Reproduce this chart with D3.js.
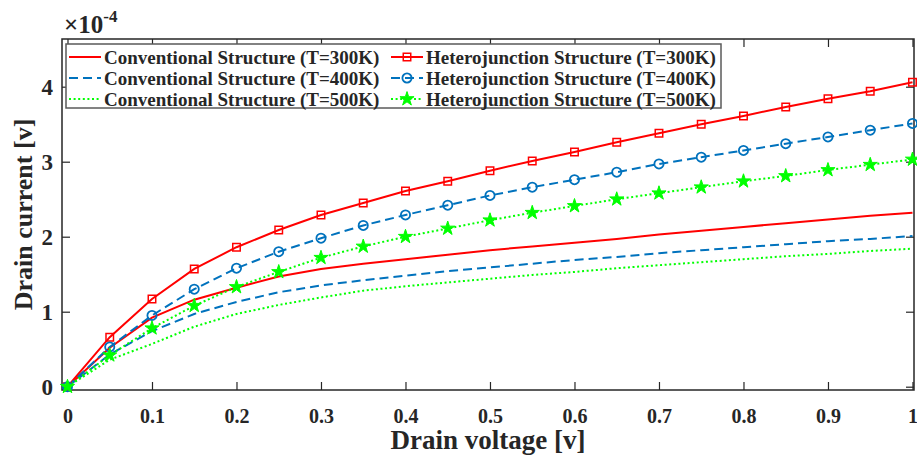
<!DOCTYPE html>
<html>
<head>
<meta charset="utf-8">
<script src="https://cdn.jsdelivr.net/npm/d3@7"></script>
<style>
  html, body { margin: 0; padding: 0; background: #fff; }
  svg { display: block; }
  text { font-family: "Liberation Serif", "Times New Roman", serif; font-weight: bold; fill: #262626; }
</style>
</head>
<body>
<svg id="chart" width="917" height="459"></svg>
<script>
// ---------------- data (current in units of 1e-4 A) ----------------
const voltage = [0, 0.05, 0.1, 0.15, 0.2, 0.25, 0.3, 0.35, 0.4, 0.45, 0.5,
                 0.55, 0.6, 0.65, 0.7, 0.75, 0.8, 0.85, 0.9, 0.95, 1.0];
const conv300 = [0, 0.52, 0.92, 1.16, 1.32, 1.47, 1.57, 1.64, 1.70, 1.76, 1.82,
                 1.87, 1.92, 1.97, 2.03, 2.08, 2.13, 2.18, 2.23, 2.28, 2.32];
const conv400 = [0, 0.43, 0.74, 0.97, 1.13, 1.26, 1.35, 1.42, 1.48, 1.54, 1.59,
                 1.64, 1.69, 1.73, 1.78, 1.82, 1.86, 1.90, 1.94, 1.97, 2.01];
const conv500 = [0, 0.36, 0.57, 0.80, 0.97, 1.09, 1.19, 1.28, 1.34, 1.39, 1.44,
                 1.49, 1.53, 1.58, 1.62, 1.66, 1.70, 1.74, 1.77, 1.81, 1.84];
const het300  = [0, 0.66, 1.17, 1.57, 1.86, 2.09, 2.29, 2.45, 2.61, 2.74, 2.88,
                 3.01, 3.13, 3.26, 3.38, 3.50, 3.61, 3.73, 3.84, 3.94, 4.06];
const het400  = [0, 0.53, 0.95, 1.30, 1.58, 1.80, 1.98, 2.15, 2.29, 2.42, 2.55,
                 2.66, 2.76, 2.86, 2.97, 3.06, 3.15, 3.24, 3.33, 3.42, 3.51];
const het500  = [0, 0.42, 0.78, 1.08, 1.33, 1.53, 1.72, 1.87, 2.00, 2.11, 2.22,
                 2.32, 2.41, 2.50, 2.58, 2.66, 2.74, 2.81, 2.89, 2.96, 3.03];

const xTicks = [0, 0.1, 0.2, 0.3, 0.4, 0.5, 0.6, 0.7, 0.8, 0.9, 1];
const xTickLabels = ["0", "0.1", "0.2", "0.3", "0.4", "0.5", "0.6", "0.7", "0.8", "0.9", "1"];
const yTicks = [0, 1, 2, 3, 4];
const yTickLabels = ["0", "1", "2", "3", "4"];
const exponentLabel = "-4";
const xTitle = "Drain voltage [v]";
const yTitle = "Drain current [v]";

const seriesNames = [
  "Conventional Structure (T=300K)",
  "Conventional Structure (T=400K)",
  "Conventional Structure (T=500K)",
  "Heterojunction Structure (T=300K)",
  "Heterojunction Structure (T=400K)",
  "Heterojunction Structure (T=500K)"
];

// ---------------- styles ----------------
const RED = "#ff0000", BLUE = "#0072bd", GREEN = "#00ff00";
const series = [
  { name: seriesNames[0], values: conv300, color: RED,   dash: null,    marker: null },
  { name: seriesNames[1], values: conv400, color: BLUE,  dash: "9,5",   marker: null },
  { name: seriesNames[2], values: conv500, color: GREEN, dash: "2,2.6", marker: null },
  { name: seriesNames[3], values: het300,  color: RED,   dash: null,    marker: "square" },
  { name: seriesNames[4], values: het400,  color: BLUE,  dash: "9,5",   marker: "circle" },
  { name: seriesNames[5], values: het500,  color: GREEN, dash: "2,2.6", marker: "star" }
];

// ---------------- layout ----------------
const svg = d3.select("#chart");
const L = 62, R = 914, T = 39, B = 390;
const AXC = "#262626";

const x = d3.scaleLinear().domain([-0.0065, 1.0018]).range([L, R]);
const y = d3.scaleLinear().domain([-0.044, 4.636]).range([B, T]);

const tickLen = 8;

const gx = svg.append("g").attr("transform", `translate(0,${B})`)
  .call(d3.axisBottom(x).tickValues(xTicks).tickFormat((d, i) => xTickLabels[i])
        .tickSizeInner(-tickLen).tickSizeOuter(0).tickPadding(19));
const gxt = svg.append("g").attr("transform", `translate(0,${T})`)
  .call(d3.axisTop(x).tickValues(xTicks).tickFormat("")
        .tickSizeInner(-tickLen).tickSizeOuter(0));
const gy = svg.append("g").attr("transform", `translate(${L},0)`)
  .call(d3.axisLeft(y).tickValues(yTicks).tickFormat((d, i) => yTickLabels[i])
        .tickSizeInner(-tickLen).tickSizeOuter(0).tickPadding(9));
const gyr = svg.append("g").attr("transform", `translate(${R},0)`)
  .call(d3.axisRight(y).tickValues(yTicks).tickFormat("")
        .tickSizeInner(-tickLen).tickSizeOuter(0));

[gx, gxt, gy, gyr].forEach(g => {
  g.select(".domain").remove();
  g.selectAll(".tick line").attr("stroke", AXC).attr("stroke-width", 1.2);
});
gx.selectAll(".tick text").attr("font-size", 20).attr("fill", AXC)
  .attr("font-family", "Liberation Serif").attr("font-weight", "bold");
gy.selectAll(".tick text").attr("font-size", 23).attr("fill", AXC)
  .attr("font-family", "Liberation Serif").attr("font-weight", "bold");

svg.append("rect").attr("x", L).attr("y", T).attr("width", R - L).attr("height", B - T)
  .attr("fill", "none").attr("stroke", AXC).attr("stroke-width", 1.5);

const plotG = svg.append("g");
const line = d3.line().x((d, i) => x(voltage[i])).y(d => y(d));

function drawMarker(sel, type, color) {
  if (type === "square") {
    sel.append("path").attr("d", d3.symbol(d3.symbolSquare, 56)())
      .attr("fill", "none").attr("stroke", color).attr("stroke-width", 1.5);
  } else if (type === "circle") {
    sel.append("circle").attr("r", 4.6)
      .attr("fill", "none").attr("stroke", color).attr("stroke-width", 1.8);
  } else if (type === "star") {
    sel.append("path").attr("d", d3.symbol(d3.symbolStar, 62)())
      .attr("fill", color).attr("stroke", color).attr("stroke-width", 1)
      .attr("stroke-linejoin", "round");
  }
}

series.forEach(s => {
  plotG.append("path").datum(s.values)
    .attr("d", line)
    .attr("fill", "none")
    .attr("stroke", s.color)
    .attr("stroke-width", 2)
    .attr("stroke-dasharray", s.dash);
});
series.forEach(s => {
  if (!s.marker) return;
  s.values.forEach((v, i) => {
    const g = plotG.append("g").attr("transform", `translate(${x(voltage[i])},${y(v)})`);
    drawMarker(g, s.marker, s.color);
  });
});

// exponent label
const expT = svg.append("text").attr("x", L + 2).attr("y", 33).attr("font-size", 25).attr("fill", AXC);
expT.append("tspan").text("\u00d710");
expT.append("tspan").attr("dy", -11).attr("font-size", 17).text(exponentLabel);

// axis titles
svg.append("text").attr("x", (L + R) / 2).attr("y", 449).attr("text-anchor", "middle")
  .attr("font-size", 27).text(xTitle);
svg.append("text").attr("transform", `translate(32,${(T + B) / 2}) rotate(-90)`)
  .attr("text-anchor", "middle").attr("font-size", 26).text(yTitle);

// legend
const legX = 66, legY = 44, legW = 655, legH = 64;
const lg = svg.append("g");
lg.append("rect").attr("x", legX).attr("y", legY).attr("width", legW).attr("height", legH)
  .attr("fill", "#fff").attr("stroke", "#5a5a5a").attr("stroke-width", 1.5);
const colX = [69, 391];
const rowY = [57, 78, 99];
series.forEach((s, k) => {
  const c = Math.floor(k / 3), r = k % 3;
  const x0 = colX[c], yy = rowY[r];
  lg.append("line").attr("x1", x0).attr("x2", x0 + 32).attr("y1", yy).attr("y2", yy)
    .attr("stroke", s.color).attr("stroke-width", 2).attr("stroke-dasharray", s.dash);
  if (s.marker) {
    const g = lg.append("g").attr("transform", `translate(${x0 + 16},${yy})`);
    drawMarker(g, s.marker, s.color);
  }
  lg.append("text").attr("x", x0 + 35).attr("y", yy + 6.5).attr("font-size", 19).attr("fill", "#000")
    .text(s.name);
});
</script>
</body>
</html>
